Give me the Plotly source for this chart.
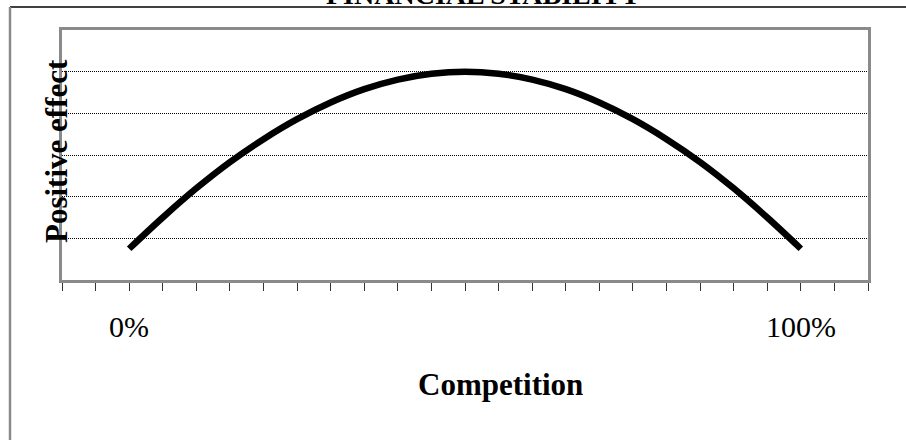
import plotly.graph_objects as go

# ---- data ----
competition_pos = [2, 3, 4, 5, 6, 7, 8, 9, 10, 11, 12, 13, 14, 15, 16, 17, 18, 19, 20, 21, 22]
positive_effect = [0.75, 1.5, 2.2, 2.83, 3.38, 3.86, 4.26, 4.58, 4.81, 4.95, 5.0,
                   4.95, 4.81, 4.58, 4.26, 3.86, 3.38, 2.83, 2.2, 1.5, 0.75]
x_tick_positions = list(range(0, 25))
label_positions = [2, 22]
label_texts = ["0%", "100%"]
chart_title = "FINANCIAL STABILITY"
x_title = "Competition"
y_title = "Positive effect"

W, H = 906, 440
L, R, T, B = 62, 868, 30, 280  # plot area in pixels


def px(xp):
    return (xp - L) / (R - L)


def py(yp):
    return (B - yp) / (B - T)


FONT = "Liberation Serif, Times New Roman, serif"

fig = go.Figure()
fig.add_trace(go.Scatter(
    x=competition_pos, y=positive_effect, mode="lines",
    line=dict(color="black", width=6.5, shape="spline", smoothing=1.0),
    hoverinfo="skip", showlegend=False,
))

fig.update_layout(
    width=W, height=H,
    margin=dict(l=L, r=W - R, t=T, b=H - B, pad=0),
    paper_bgcolor="white", plot_bgcolor="white",
    font=dict(family=FONT, color="black"),
    showlegend=False,
    xaxis=dict(
        range=[0, 24], tickvals=x_tick_positions, showticklabels=False,
        ticks="outside", ticklen=8, tickwidth=1, tickcolor="#333333",
        showgrid=False, zeroline=False,
        showline=True, linecolor="#8a8a8a", linewidth=2.5, mirror=True,
    ),
    yaxis=dict(
        range=[0, 6], tickvals=[1, 2, 3, 4, 5], showticklabels=False,
        ticks="", showgrid=True, gridcolor="black", gridwidth=1,
        griddash="1px,1px", zeroline=False,
        showline=True, linecolor="#8a8a8a", linewidth=2.5, mirror=True,
    ),
)

# outer chart-area frame
fig.add_shape(type="line", xref="paper", yref="paper",
              x0=px(10), x1=px(W + 5), y0=py(7), y1=py(7),
              line=dict(color="black", width=1.5))
fig.add_shape(type="line", xref="paper", yref="paper",
              x0=px(10), x1=px(10), y0=py(7), y1=py(H + 5),
              line=dict(color="#8a8a8a", width=2.5))

# title (clipped at top)
fig.add_annotation(text="<b>%s</b>" % chart_title, xref="paper", yref="paper",
                   x=px(484), y=py(12), xanchor="center", yanchor="bottom",
                   showarrow=False, font=dict(size=28, family=FONT))

# y-axis title
fig.add_annotation(text="<b>%s</b>" % y_title, xref="paper", yref="paper",
                   x=px(56), y=py(151), xanchor="center", yanchor="middle",
                   textangle=-90, showarrow=False, font=dict(size=31, family=FONT))

# 0% / 100% labels
for xv, t in zip(label_positions, label_texts):
    fig.add_annotation(text=t, xref="x", yref="paper",
                       x=xv, y=py(326), xanchor="center", yanchor="middle",
                       showarrow=False, font=dict(size=30, family=FONT))

# x-axis title
fig.add_annotation(text="<b>%s</b>" % x_title, xref="paper", yref="paper",
                   x=px(500), y=py(384), xanchor="center", yanchor="middle",
                   showarrow=False, font=dict(size=31, family=FONT))

fig.write_html("out.html", config={"displayModeBar": False},
               post_script="document.body.style.margin='0';document.body.style.overflow='hidden';")
